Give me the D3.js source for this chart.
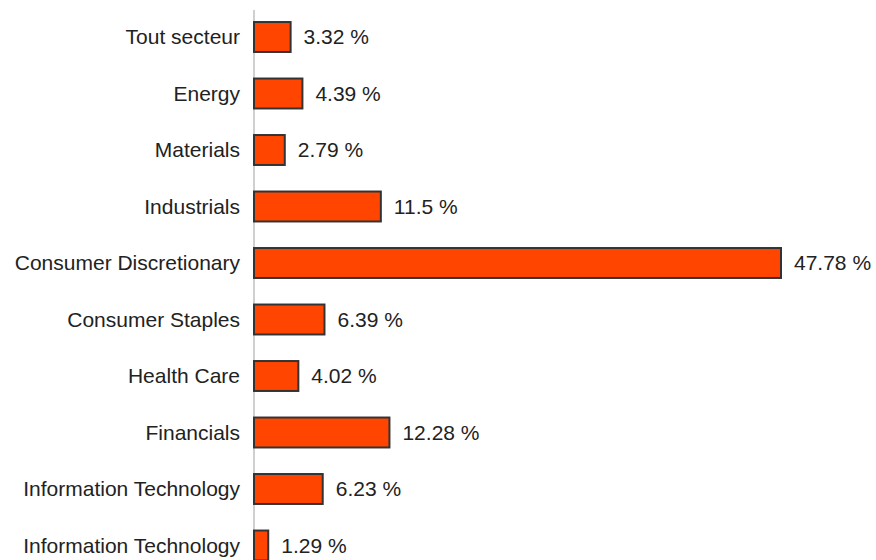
<!DOCTYPE html>
<html>
<head>
<meta charset="utf-8">
<script src="https://cdn.jsdelivr.net/npm/d3@7"></script>
<style>
  html, body { margin: 0; padding: 0; background: #fff; overflow: hidden; }
  text { font-family: "Liberation Sans", Arial, sans-serif; font-size: 21px; fill: #222; }
</style>
</head>
<body>
<svg id="chart" width="876" height="560"></svg>
<script>
// données du graphique
const categories = [
    "Tout secteur", "Energy", "Materials", "Industrials", "Consumer Discretionary",
    "Consumer Staples", "Health Care", "Financials", "Information Technology", "Information Technology"
];
const values = [3.32, 4.39, 2.79, 11.5, 47.78, 6.39, 4.02, 12.28, 6.23, 1.29];

const svg = d3.select("#chart");
const left = 254;

const x = d3.scaleLinear()
    .domain([0, 47.78])
    .range([left, 781]);

const y = d3.scaleBand()
    .domain(d3.range(categories.length))
    .range([8.75, 8.75 + 56.5 * categories.length])
    .paddingInner(0.47)
    .paddingOuter(0.235);

// axe vertical gris
svg.append("line")
    .attr("x1", left).attr("x2", left)
    .attr("y1", 10).attr("y2", 560)
    .attr("stroke", "#d0d0d0")
    .attr("stroke-width", 2);

const rows = svg.selectAll("g.row")
    .data(values)
    .enter()
    .append("g")
    .attr("class", "row");

rows.append("rect")
    .attr("x", x(0))
    .attr("y", (d, i) => y(i))
    .attr("width", d => x(d) - x(0))
    .attr("height", y.bandwidth())
    .attr("fill", "#ff4500")
    .attr("stroke", "#333")
    .attr("stroke-width", 2);

rows.append("text")
    .attr("x", d => x(d) + 13)
    .attr("y", (d, i) => y(i) + y.bandwidth() / 2)
    .attr("dy", "0.35em")
    .text(d => d + " %");

rows.append("text")
    .attr("x", left - 14)
    .attr("y", (d, i) => y(i) + y.bandwidth() / 2)
    .attr("dy", "0.35em")
    .attr("text-anchor", "end")
    .text((d, i) => categories[i]);
</script>
</body>
</html>
